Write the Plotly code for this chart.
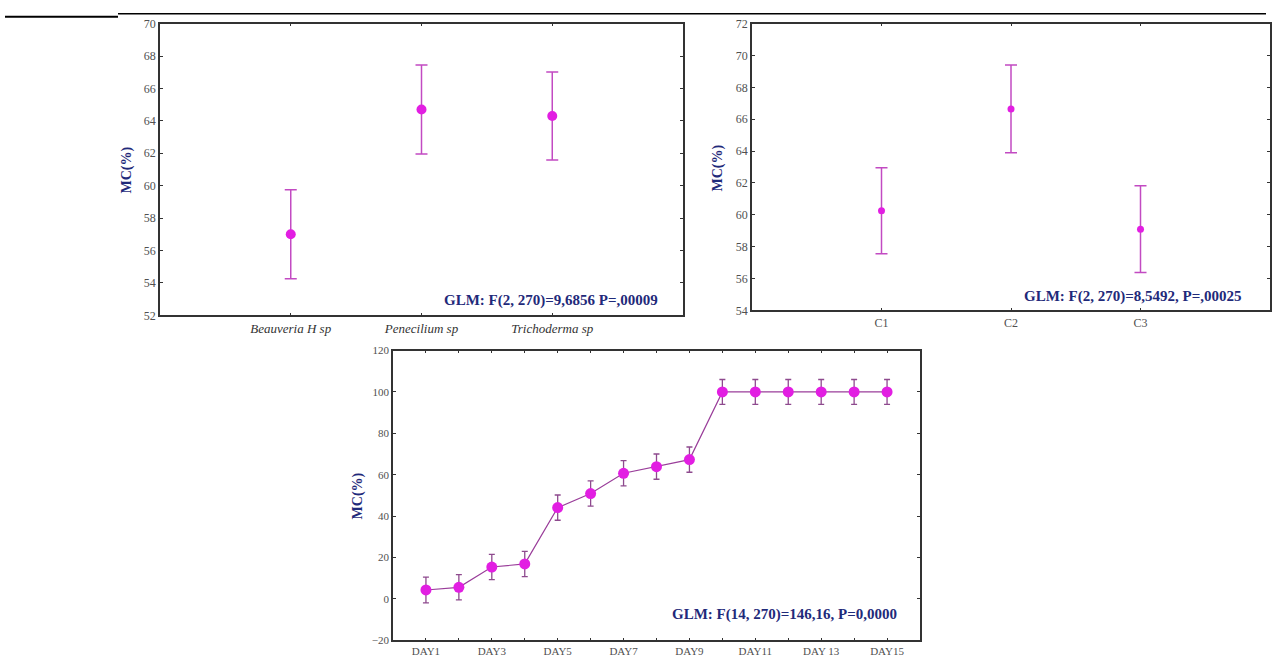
import plotly.graph_objects as go

W, H = 1272, 660

# Panel A: fungal isolate
fungi = ["Beauveria H sp", "Penecilium sp", "Trichoderma sp"]
fungi_mc = [57.0, 64.7, 64.3]
fungi_err = [2.75, 2.75, 2.72]

# Panel B: concentration
conc = ["C1", "C2", "C3"]
conc_mc = [60.25, 66.65, 59.1]
conc_err = [2.7, 2.75, 2.72]

# Panel C: day of exposure
days = ["DAY1", "DAY2", "DAY3", "DAY4", "DAY5", "DAY6", "DAY7", "DAY8",
        "DAY9", "DAY10", "DAY11", "DAY12", "DAY13", "DAY14", "DAY15"]
day_mc = [4.3, 5.6, 15.4, 16.9, 44.1, 50.9, 60.7, 63.9, 67.3,
          100, 100, 100, 100, 100, 100]
day_err = [6.2, 6.1, 6.1, 6.1, 6.1, 6.1, 6.1, 6.1, 6.1, 6.0, 6.0, 6.0, 6.0, 6.0, 6.0]
day_ticktext = ["DAY1", "", "DAY3", "", "DAY5", "", "DAY7", "", "DAY9", "",
                "DAY11", "", "DAY 13", "", "DAY15"]

stats = [
    "GLM: F(2, 270)=9,6856 P=,00009",
    "GLM: F(2, 270)=8,5492, P=,00025",
    "GLM: F(14, 270)=146,16, P=0,0000",
]

SERIF = "Liberation Serif"
MAGENTA = "#e21ee2"
NAVY = "#1f2a7a"


def px(x):
    return x / W


def py(y):
    return 1 - y / H


fig = go.Figure()

fig.add_trace(go.Scatter(
    x=list(range(len(fungi))), y=fungi_mc, mode="markers",
    marker=dict(color=MAGENTA, size=10),
    error_y=dict(type="data", array=fungi_err, color="#c24ac2", thickness=1.5, width=6),
    xaxis="x", yaxis="y", showlegend=False))

fig.add_trace(go.Scatter(
    x=list(range(len(conc))), y=conc_mc, mode="markers",
    marker=dict(color=MAGENTA, size=7),
    error_y=dict(type="data", array=conc_err, color="#c24ac2", thickness=1.5, width=6),
    xaxis="x2", yaxis="y2", showlegend=False))

fig.add_trace(go.Scatter(
    x=list(range(len(days))), y=day_mc, mode="lines+markers",
    line=dict(color="#9a3e9a", width=1.2),
    marker=dict(color=MAGENTA, size=11),
    error_y=dict(type="data", array=day_err, color="#8e4a8e", thickness=1.3, width=3),
    xaxis="x3", yaxis="y3", showlegend=False))

axis_common = dict(
    showline=True, linecolor="#333333", linewidth=1.5, mirror="ticks",
    ticks="inside", ticklen=3, tickcolor="#333333", showgrid=False,
    zeroline=False, tickfont=dict(family=SERIF, size=12, color="#505050"),
)

fig.update_layout(
    width=W, height=H,
    margin=dict(l=0, r=0, t=0, b=0),
    paper_bgcolor="white", plot_bgcolor="white",
    xaxis=dict(axis_common, domain=[px(160), px(683)], range=[-1, 3],
               tickvals=list(range(len(fungi))),
               ticktext=["<i>%s</i>" % f for f in fungi], anchor="y",
               tickfont=dict(family=SERIF, size=13, color="#333333")),
    yaxis=dict(axis_common, domain=[py(315), py(17)], range=[52, 70],
               dtick=2, anchor="x"),
    xaxis2=dict(axis_common, domain=[px(752), px(1270)], range=[-1, 3],
                tickvals=list(range(len(conc))), ticktext=conc, anchor="y2"),
    yaxis2=dict(axis_common, domain=[py(310), py(17)], range=[54, 72],
                dtick=2, anchor="x2"),
    xaxis3=dict(axis_common, domain=[px(393), px(920)], range=[-1, 15],
                tickvals=list(range(len(days))), ticktext=day_ticktext,
                anchor="y3", tickfont=dict(family=SERIF, size=11, color="#505050")),
    yaxis3=dict(axis_common, domain=[py(647), py(351)], range=[-20, 120],
                dtick=20, anchor="x3",
                tickfont=dict(family=SERIF, size=11, color="#505050")),
)

# y-axis titles
for xc, yc in [(127, 167), (717, 165), (358, 500)]:
    fig.add_annotation(text="<b>MC(%)</b>", xref="paper", yref="paper",
                       x=px(xc), y=py(yc), xanchor="center", yanchor="middle",
                       textangle=-90, showarrow=False,
                       font=dict(family=SERIF, size=14, color=NAVY))

# model statistics
for text, xc, yc in zip(stats, [551, 1133, 784], [300, 296, 621]):
    fig.add_annotation(text="<b>%s</b>" % text, xref="paper", yref="paper",
                       x=px(xc), y=py(yc), xanchor="center", yanchor="middle",
                       showarrow=False,
                       font=dict(family=SERIF, size=15, color=NAVY))

# header rules
fig.add_shape(type="line", xref="paper", yref="paper",
              x0=px(5), x1=px(118), y0=py(10), y1=py(10),
              line=dict(color="black", width=2))
fig.add_shape(type="line", xref="paper", yref="paper",
              x0=px(118), x1=px(1266), y0=py(7), y1=py(7),
              line=dict(color="black", width=1.5))

fig.write_html("out.html")
